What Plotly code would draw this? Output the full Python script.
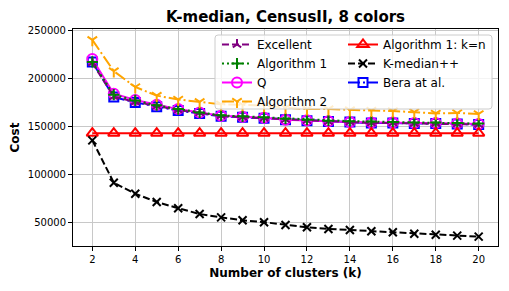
import plotly.graph_objects as go

k_values = list(range(2, 21))

excellent = [216000, 181000, 175500, 171000, 167000, 164000, 161000, 159500, 158500, 157000,
             156000, 155000, 154500, 153500, 153500, 153000, 153000, 152500, 152000]
algorithm1 = [217000, 183000, 177000, 172000, 168000, 164500, 161500, 160500, 159500, 158000,
              157000, 156000, 155500, 155000, 154500, 154000, 154000, 153500, 153000]
q_values = [220000, 184000, 177500, 172500, 168000, 164500, 161000, 160000, 159000, 157000,
            156500, 155500, 154500, 154000, 154000, 153500, 153500, 153000, 152500]
algorithm2 = [240000, 207500, 191000, 182000, 178000, 175500, 173000, 172500, 171500, 169500,
              168000, 168000, 167000, 166500, 166000, 165000, 163500, 164000, 163000]
algorithm1_kn = [143000, 143000, 143000, 143000, 143000, 143000, 143000, 143000, 143000, 143000,
                 143000, 143000, 143000, 143000, 143000, 143000, 143000, 143000, 143000]
kmedian_pp = [135500, 91500, 80000, 71500, 65000, 59000, 55500, 52500, 50500, 47500,
              45200, 43500, 42300, 41000, 40000, 38500, 37500, 36500, 35500]
bera = [217000, 180500, 175000, 170500, 166500, 163500, 160500, 159500, 158500, 157000,
        156000, 155000, 154500, 153500, 153500, 153000, 153000, 152500, 152000]

x_ticks = [2, 4, 6, 8, 10, 12, 14, 16, 18, 20]
y_ticks = [50000, 100000, 150000, 200000, 250000]

FONT = "DejaVu Sans"

# The page body has an 8px default margin; the figure is sized/offset to fit the 509x291 view.
OFF = 8
FIG_W, FIG_H = 509 - OFF, 291 - OFF

fig = go.Figure()

def add(name, y, color, dash, symbol, legend, rank, size=9):
    fig.add_trace(go.Scatter(
        x=k_values, y=y, name=name, mode="lines+markers",
        line=dict(color=color, width=2, dash=dash),
        marker=dict(symbol=symbol, size=size, color=color,
                    line=dict(color=color, width=2)),
        legend=legend, legendrank=rank,
    ))

add("Bera at al.", bera, "#0000ff", "12px,3px,2px,3px", "square-open", "legend2", 3, size=9)
add("Q", q_values, "#ff00ff", "solid", "circle-open", "legend", 3, size=10)
add("Excellent", excellent, "#800080", "7px,3px", "y-up", "legend", 1, size=7)
add("Algorithm 1", algorithm1, "#008000", "2px,3px", "cross-thin", "legend", 2, size=8)
add("Algorithm 2", algorithm2, "#ffa500", "12px,3px,2px,3px", "y-down", "legend", 4, size=8)
add("Algorithm 1: k=n", algorithm1_kn, "#ff0000", "solid", "triangle-up-open", "legend2", 1, size=10)
add("K-median++", kmedian_pp, "#000000", "7px,3px", "x-thin", "legend2", 2, size=8)

# plot-area geometry in page pixels
L, R, T, B = 73.0, 498.0, 29.0, 246.0
W, H = R - L, B - T
def px_x(p):
    return (p - L) / W
def px_y(p):
    return (B - p) / H

# legend frame (matplotlib-like, semi-transparent)
x0, x1, y0, y1 = px_x(215), px_x(492), px_y(109), px_y(35)
rx, ry = 3 / W, 3 / H
path = (f"M {x0+rx},{y1} L {x1-rx},{y1} Q {x1},{y1} {x1},{y1-ry} "
        f"L {x1},{y0+ry} Q {x1},{y0} {x1-rx},{y0} L {x0+rx},{y0} "
        f"Q {x0},{y0} {x0},{y0+ry} L {x0},{y1-ry} Q {x0},{y1} {x0+rx},{y1} Z")
fig.add_shape(type="path", path=path, xref="paper", yref="paper",
              fillcolor="rgba(255,255,255,0.8)", line=dict(color="#cccccc", width=1),
              layer="above")

legend_common = dict(font=dict(family=FONT, size=12, color="black"),
                     bgcolor="rgba(0,0,0,0)", borderwidth=0,
                     xanchor="left", yanchor="top", orientation="v",
                     tracegroupgap=0)

fig.update_layout(
    width=FIG_W, height=FIG_H,
    margin=dict(l=L - OFF, r=FIG_W - (R - OFF), t=T - OFF, b=FIG_H - (B - OFF),
                autoexpand=False),
    paper_bgcolor="white", plot_bgcolor="white",
    font=dict(family=FONT, size=10, color="black"),
    title=dict(text="<b>K-median, CensusII, 8 colors</b>", x=0.5, xref="paper",
               xanchor="center", y=1 - (17 - OFF) / FIG_H, yanchor="middle",
               font=dict(family=FONT, size=15, color="black")),
    legend=dict(x=px_x(217), y=px_y(30), **legend_common),
    legend2=dict(x=px_x(343), y=px_y(30), **legend_common),
    showlegend=True,
)

fig.update_xaxes(
    range=[1.1, 20.9], tickvals=x_ticks, ticktext=[str(v) for v in x_ticks],
    showgrid=True, gridcolor="#c8c8c8", gridwidth=1, automargin=False,
    showline=True, linecolor="black", linewidth=1, mirror=True,
    ticks="outside", ticklen=4, tickcolor="black", zeroline=False,
    tickfont=dict(family=FONT, size=10, color="black"),
    title=dict(text="<b>Number of clusters (k)</b>", standoff=4,
               font=dict(family=FONT, size=12, color="black")),
)
fig.update_yaxes(
    range=[25750, 251250], tickvals=y_ticks, ticktext=[str(v) for v in y_ticks],
    showgrid=True, gridcolor="#c8c8c8", gridwidth=1, automargin=False,
    showline=True, linecolor="black", linewidth=1, mirror=True,
    ticks="outside", ticklen=4, tickcolor="black", zeroline=False,
    tickfont=dict(family=FONT, size=10, color="black"),
    title=dict(text="<b>Cost</b>", standoff=5,
               font=dict(family=FONT, size=12, color="black")),
)

fig.write_html("out.html")
